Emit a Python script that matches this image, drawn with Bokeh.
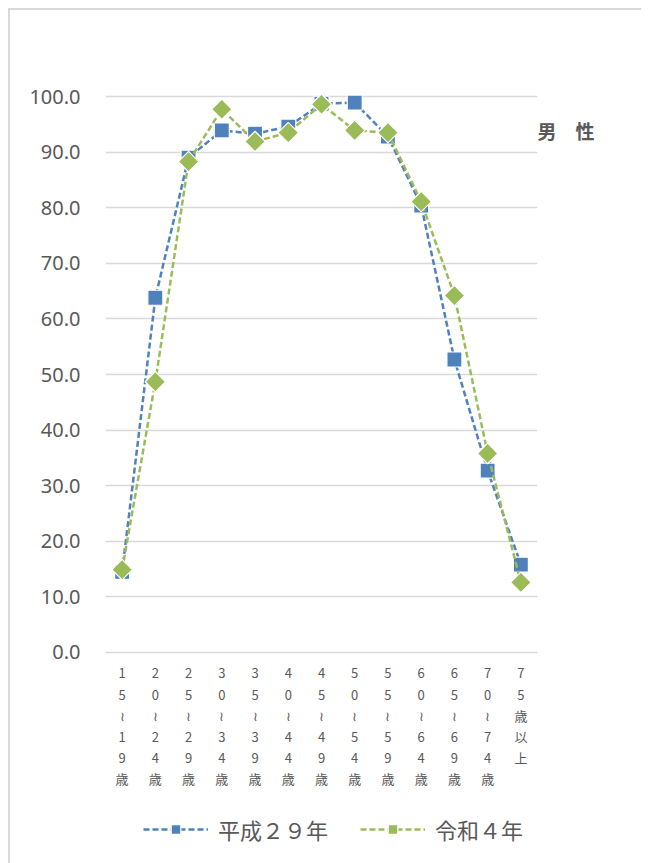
from bokeh.plotting import figure
from bokeh.models import (Range1d, FixedTicker, Legend, LegendItem, Label,
                          ColumnDataSource)
from bokeh.embed import file_html
from bokeh.resources import INLINE
import numpy as np

# ---- data ----
categories = ["15～19歳", "20～24歳", "25～29歳", "30～34歳", "35～39歳",
              "40～44歳", "45～49歳", "50～54歳", "55～59歳", "60～64歳",
              "65～69歳", "70～74歳", "75歳以上"]
h29 = [14.5, 63.8, 89.0, 93.9, 93.3, 94.6, 98.7, 98.9, 92.8, 80.4, 52.7, 32.7, 15.8]
r4 = [14.9, 48.7, 88.3, 97.7, 91.9, 93.5, 98.6, 93.9, 93.5, 81.1, 64.2, 35.8, 12.6]
series_names = ["平成２９年", "令和４年"]
y_ticks = [0, 10, 20, 30, 40, 50, 60, 70, 80, 90, 100]
title_text = "男　性"

BLUE = "#4F81BD"
GREEN = "#9BBB59"
GRAY = "#595959"
JP = "Noto Sans CJK JP"

def vertical(label):
    return "\n".join(ch if ch != "～" else "≀" for ch in label)

x = list(range(len(categories)))

# frame extends down to the bottom so that the category labels and the
# legend (below the 0 line) are drawn inside it
p = figure(width=641, height=853, output_backend="svg", toolbar_location=None,
           x_range=Range1d(-0.5, len(categories) - 0.5),
           y_range=Range1d(-37.95, 100.54),
           min_border_left=95, min_border_right=104,
           min_border_top=83, min_border_bottom=0,
           frame_width=432, frame_height=770,
           styles={"margin-left": "8px", "margin-top": "8px",
                   "border-left": "2px solid #D9D9D9",
                   "border-top": "2px solid #D9D9D9"})
p.outline_line_color = None
p.background_fill_color = "white"
p.border_fill_color = "white"

# axes
p.xaxis.fixed_location = 0
p.xaxis.ticker = FixedTicker(ticks=x)
p.xaxis.major_label_overrides = {i: vertical(c) for i, c in enumerate(categories)}
p.xaxis.major_label_text_font = JP
p.xaxis.major_label_text_font_size = "13px"
p.xaxis.major_label_text_color = GRAY
p.xaxis.major_label_text_line_height = 1.11
p.xaxis.major_label_standoff = 5
p.xaxis.axis_line_color = None
p.xaxis.major_tick_line_color = None
p.xaxis.minor_tick_line_color = None

p.yaxis.ticker = FixedTicker(ticks=y_ticks)
p.yaxis.major_label_overrides = {t: f"{t:.1f}" for t in y_ticks}
p.yaxis.major_label_text_font = "Noto Sans"
p.yaxis.major_label_text_font_size = "20px"
p.yaxis.major_label_text_color = GRAY
p.yaxis.major_label_standoff = 19
p.yaxis.axis_line_color = None
p.yaxis.major_tick_line_color = None
p.yaxis.minor_tick_line_color = None

p.xgrid.grid_line_color = None
p.ygrid.grid_line_color = "#D9D9D9"
p.ygrid.grid_line_width = 1.5

# series
src1 = ColumnDataSource(dict(x=x, y=h29))
src2 = ColumnDataSource(dict(x=x, y=r4))
l1 = p.line("x", "y", source=src1, line_color=BLUE, line_width=2.5, line_dash="6 3")
m1 = p.scatter("x", "y", source=src1, marker="square", size=15,
               fill_color=BLUE, line_color="white", line_width=1.2)
l2 = p.line("x", "y", source=src2, line_color=GREEN, line_width=2.5, line_dash="6 3")
m2 = p.scatter("x", "y", source=src2, marker="square", size=14.5, angle=np.pi / 4,
               fill_color=GREEN, line_color="white", line_width=1.2)

legend = Legend(items=[LegendItem(label=series_names[0], renderers=[l1, m1]),
                       LegendItem(label=series_names[1], renderers=[l2, m2])],
                orientation="horizontal", location=(38, 18), margin=0, padding=10,
                glyph_width=65, glyph_height=24, label_standoff=10, spacing=32,
                label_text_font=JP, label_text_font_size="22px",
                label_text_color=GRAY, border_line_color=None,
                background_fill_alpha=0)
p.add_layout(legend)

p.add_layout(Label(x=0, y=733, x_units="screen", y_units="screen",
                   text=title_text, text_font=JP, text_font_size="19px",
                   text_font_style="bold", text_color=GRAY,
                   text_baseline="middle", text_align="left"), "right")

open("out.html", "w").write(file_html(p, INLINE))
